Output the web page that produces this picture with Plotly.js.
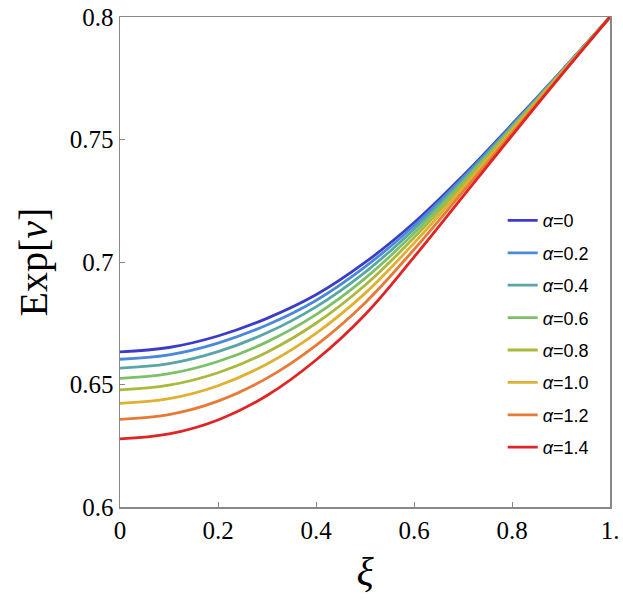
<!DOCTYPE html>
<html>
<head>
<meta charset="utf-8">
<script src="https://cdn.plot.ly/plotly-3.0.1.min.js"></script>
<style>html,body{margin:0;padding:0;background:#fff;}</style>
</head>
<body>
<div id="chart" style="width:623px;height:608px;"></div>
<script>
const xi = [0, 0.1, 0.2, 0.3, 0.4, 0.5, 0.6, 0.7, 0.8, 0.9, 1.0];
const seriesNames = ["<i>α</i>=0", "<i>α</i>=0.2", "<i>α</i>=0.4", "<i>α</i>=0.6", "<i>α</i>=0.8", "<i>α</i>=1.0", "<i>α</i>=1.2", "<i>α</i>=1.4"];
const a00 = [0.6633, 0.6651, 0.6698, 0.6770, 0.6866, 0.6998, 0.7160, 0.7352, 0.7562, 0.7778, 0.8];
const a02 = [0.6603, 0.6621, 0.6669, 0.6743, 0.6843, 0.6980, 0.7148, 0.7345, 0.7558, 0.7777, 0.8];
const a04 = [0.6567, 0.6585, 0.6634, 0.6711, 0.6817, 0.6958, 0.7134, 0.7336, 0.7553, 0.7775, 0.8];
const a06 = [0.6525, 0.6544, 0.6594, 0.6674, 0.6785, 0.6933, 0.7117, 0.7326, 0.7548, 0.7773, 0.8];
const a08 = [0.6478, 0.6497, 0.6548, 0.6632, 0.6750, 0.6905, 0.7099, 0.7315, 0.7542, 0.7771, 0.8];
const a10 = [0.6423, 0.6442, 0.6495, 0.6584, 0.6709, 0.6872, 0.7077, 0.7302, 0.7535, 0.7768, 0.8];
const a12 = [0.6358, 0.6377, 0.6432, 0.6526, 0.6660, 0.6833, 0.7051, 0.7287, 0.7526, 0.7765, 0.8];
const a14 = [0.6278, 0.6298, 0.6355, 0.6455, 0.6600, 0.6785, 0.7020, 0.7268, 0.7516, 0.7761, 0.8];
const xTickVals = [0, 0.2, 0.4, 0.6, 0.8, 1.0];
const xTickText = ["0", "0.2", "0.4", "0.6", "0.8", "1."];
const yTickVals = [0.6, 0.65, 0.7, 0.75, 0.8];
const yTickText = ["0.6", "0.65", "0.7", "0.75", "0.8"];

const allSeries = [a00, a02, a04, a06, a08, a10, a12, a14];
const colors = ["#3c3cc8", "#4a88dc", "#5aa6a6", "#7cc068", "#aab83c", "#e0b030", "#e67a36", "#e02424"];

const traces = allSeries.map((ys, i) => ({
  x: xi, y: ys, type: "scatter", mode: "lines",
  name: seriesNames[i], legendgroup: "g" + i,
  line: {color: colors[i], width: 2.8, shape: "spline", smoothing: 1.1}
}));

const serif = "Liberation Serif, Times New Roman, serif";
const axisCommon = {
  showgrid: false, zeroline: false, showline: true, mirror: true,
  linecolor: "#888888", linewidth: 1.5,
  ticks: "inside", ticklen: 5, tickwidth: 1, tickcolor: "#888888",
  tickfont: {family: serif, size: 25, color: "#000"}
};

const layout = {
  width: 623, height: 608,
  margin: {l: 120, r: 13, t: 17, b: 101},
  paper_bgcolor: "#fff", plot_bgcolor: "#fff",
  showlegend: true,
  legend: {
    x: 0.781, y: 0.622, xanchor: "left", yanchor: "top",
    bgcolor: "rgba(0,0,0,0)", borderwidth: 0,
    font: {family: "Liberation Sans, Arial, sans-serif", size: 18, color: "#000"},
    tracegroupgap: 6, traceorder: "grouped", itemwidth: 30
  },
  xaxis: Object.assign({}, axisCommon, {
    range: [0, 1], tickvals: xTickVals, ticktext: xTickText,
    title: {text: "<i>ξ</i>", font: {family: serif, size: 40, color: "#000"}, standoff: 14}
  }),
  yaxis: Object.assign({}, axisCommon, {
    range: [0.6, 0.8], tickvals: yTickVals, ticktext: yTickText,
    title: {text: "Exp[<i>ν</i>]", font: {family: serif, size: 40, color: "#000"}, standoff: 10}
  })
};

Plotly.newPlot("chart", traces, layout, {displayModeBar: false, staticPlot: true});
</script>
</body>
</html>
